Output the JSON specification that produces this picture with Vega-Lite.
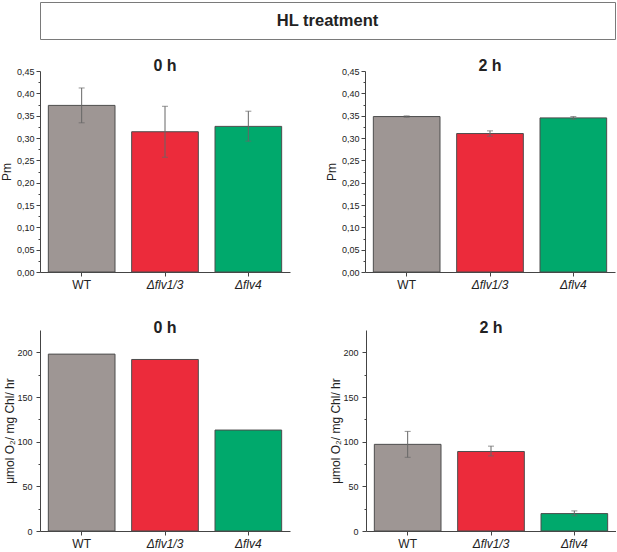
{
  "$schema": "https://vega.github.io/schema/vega-lite/v6.json",
  "autosize": {"type": "pad"},
  "padding": {"left": 0, "top": 1, "right": 0, "bottom": 0},
  "datasets": {
    "bars": [
      {"panel": "pm0", "strain": "WT", "value": 0.373, "lo": 0.334, "hi": 0.412},
      {"panel": "pm0", "strain": "Δflv1/3", "value": 0.314, "lo": 0.257, "hi": 0.371},
      {"panel": "pm0", "strain": "Δflv4", "value": 0.326, "lo": 0.293, "hi": 0.36},
      {"panel": "pm2", "strain": "WT", "value": 0.348, "lo": 0.3465, "hi": 0.3495},
      {"panel": "pm2", "strain": "Δflv1/3", "value": 0.31, "lo": 0.304, "hi": 0.316},
      {"panel": "pm2", "strain": "Δflv4", "value": 0.345, "lo": 0.342, "hi": 0.348},
      {"panel": "o0", "strain": "WT", "value": 198, "lo": null, "hi": null},
      {"panel": "o0", "strain": "Δflv1/3", "value": 192, "lo": null, "hi": null},
      {"panel": "o0", "strain": "Δflv4", "value": 113, "lo": null, "hi": null},
      {"panel": "o2", "strain": "WT", "value": 97, "lo": 82.5, "hi": 111.5},
      {"panel": "o2", "strain": "Δflv1/3", "value": 89, "lo": 84, "hi": 95},
      {"panel": "o2", "strain": "Δflv4", "value": 19.5, "lo": 17, "hi": 22.5}
    ]
  },
  "vconcat": [
    {
      "width": 575,
      "height": 37,
      "data": {"values": [{"label": "HL treatment"}]},
      "view": {"stroke": "#7a7a7a", "strokeWidth": 1},
      "mark": {"type": "text", "fontSize": 16.5, "fontWeight": "bold", "color": "#222"},
      "encoding": {"text": {"field": "label"}}
    },
    {
      "vconcat": [
        {
          "hconcat": [
            {
              "width": 250,
              "height": 201,
              "data": {"name": "bars"},
              "title": {"text": "0 h", "offset": -6.5},
              "transform": [{"filter": "datum.panel == 'pm0'"}],
              "encoding": {
                "x": {
                  "field": "strain", "type": "nominal", "sort": ["WT", "Δflv1/3", "Δflv4"],
                  "scale": {"paddingInner": 0.2, "paddingOuter": 0.1},
                  "axis": {"title": null, "labelAngle": 0, "labelFontSize": 12, "tickSize": 4, "labelPadding": 3,
                    "labelFontStyle": {"condition": {"test": "datum.value != 'WT'", "value": "italic"}, "value": "normal"}}
                }
              },
              "layer": [
                {
                  "mark": {"type": "bar", "stroke": "#4d4d4d", "strokeWidth": 1},
                  "encoding": {
                    "y": {
                      "field": "value", "type": "quantitative", "scale": {"domain": [0, 0.45], "nice": false},
                      "axis": {"title": "Pm", "titlePadding": 3, "grid": false, "labelOverlap": false, "tickCount": 100,
                        "values": [0, 0.025, 0.05, 0.075, 0.1, 0.125, 0.15, 0.175, 0.2, 0.225, 0.25, 0.275, 0.3, 0.325, 0.35, 0.375, 0.4, 0.425, 0.45],
                        "labelExpr": "round(datum.value * 1000) % 50 == 0 ? replace(format(datum.value, '.2f'), '.', ',') : ''",
                        "tickSize": {"condition": {"test": "round(datum.value * 1000) % 50 == 0", "value": 4}, "value": 2}}
                    },
                    "color": {"field": "strain", "type": "nominal", "legend": null,
                      "scale": {"domain": ["WT", "Δflv1/3", "Δflv4"], "range": ["#9e9694", "#ec2b3b", "#00a96c"]}}
                  }
                },
                {
                  "mark": {"type": "rule", "color": "#666", "strokeWidth": 1},
                  "encoding": {"y": {"field": "lo", "type": "quantitative"}, "y2": {"field": "hi"}}
                },
                {
                  "mark": {"type": "tick", "color": "#666", "size": 6, "thickness": 1},
                  "encoding": {"y": {"field": "lo", "type": "quantitative"}}
                },
                {
                  "mark": {"type": "tick", "color": "#666", "size": 6, "thickness": 1},
                  "encoding": {"y": {"field": "hi", "type": "quantitative"}}
                }
              ]
            },
            {
              "width": 250,
              "height": 201,
              "data": {"name": "bars"},
              "title": {"text": "2 h", "offset": -6.5},
              "transform": [{"filter": "datum.panel == 'pm2'"}],
              "encoding": {
                "x": {
                  "field": "strain", "type": "nominal", "sort": ["WT", "Δflv1/3", "Δflv4"],
                  "scale": {"paddingInner": 0.2, "paddingOuter": 0.1},
                  "axis": {"title": null, "labelAngle": 0, "labelFontSize": 12, "tickSize": 4, "labelPadding": 3,
                    "labelFontStyle": {"condition": {"test": "datum.value != 'WT'", "value": "italic"}, "value": "normal"}}
                }
              },
              "layer": [
                {
                  "mark": {"type": "bar", "stroke": "#4d4d4d", "strokeWidth": 1},
                  "encoding": {
                    "y": {
                      "field": "value", "type": "quantitative", "scale": {"domain": [0, 0.45], "nice": false},
                      "axis": {"title": "Pm", "titlePadding": 3, "grid": false, "labelOverlap": false, "tickCount": 100,
                        "values": [0, 0.025, 0.05, 0.075, 0.1, 0.125, 0.15, 0.175, 0.2, 0.225, 0.25, 0.275, 0.3, 0.325, 0.35, 0.375, 0.4, 0.425, 0.45],
                        "labelExpr": "round(datum.value * 1000) % 50 == 0 ? replace(format(datum.value, '.2f'), '.', ',') : ''",
                        "tickSize": {"condition": {"test": "round(datum.value * 1000) % 50 == 0", "value": 4}, "value": 2}}
                    },
                    "color": {"field": "strain", "type": "nominal", "legend": null,
                      "scale": {"domain": ["WT", "Δflv1/3", "Δflv4"], "range": ["#9e9694", "#ec2b3b", "#00a96c"]}}
                  }
                },
                {
                  "mark": {"type": "rule", "color": "#666", "strokeWidth": 1},
                  "encoding": {"y": {"field": "lo", "type": "quantitative"}, "y2": {"field": "hi"}}
                },
                {
                  "mark": {"type": "tick", "color": "#666", "size": 6, "thickness": 1},
                  "encoding": {"y": {"field": "lo", "type": "quantitative"}}
                },
                {
                  "mark": {"type": "tick", "color": "#666", "size": 6, "thickness": 1},
                  "encoding": {"y": {"field": "hi", "type": "quantitative"}}
                }
              ]
            }
          ],
          "spacing": 35
        },
        {
          "hconcat": [
            {
              "width": 250,
              "height": 201,
              "data": {"name": "bars"},
              "title": {"text": "0 h", "offset": -6},
              "transform": [{"filter": "datum.panel == 'o0'"}],
              "encoding": {
                "x": {
                  "field": "strain", "type": "nominal", "sort": ["WT", "Δflv1/3", "Δflv4"],
                  "scale": {"paddingInner": 0.2, "paddingOuter": 0.1},
                  "axis": {"title": null, "labelAngle": 0, "labelFontSize": 12, "tickSize": 4, "labelPadding": 3,
                    "labelFontStyle": {"condition": {"test": "datum.value != 'WT'", "value": "italic"}, "value": "normal"}}
                }
              },
              "layer": [
                {
                  "mark": {"type": "bar", "stroke": "#4d4d4d", "strokeWidth": 1},
                  "encoding": {
                    "y": {
                      "field": "value", "type": "quantitative", "scale": {"domain": [0, 225], "nice": false},
                      "axis": {"title": "μmol O₂/ mg  Chl/ hr", "titlePadding": 0, "labelPadding": 4, "grid": false, "labelOverlap": false, "tickCount": 100,
                        "values": [0, 25, 50, 75, 100, 125, 150, 175, 200],
                        "labelExpr": "datum.value % 50 == 0 ? format(datum.value, 'd') : ''",
                        "tickSize": {"condition": {"test": "datum.value % 50 == 0", "value": 4}, "value": 2}}
                    },
                    "color": {"field": "strain", "type": "nominal", "legend": null,
                      "scale": {"domain": ["WT", "Δflv1/3", "Δflv4"], "range": ["#9e9694", "#ec2b3b", "#00a96c"]}}
                  }
                }
              ]
            },
            {
              "width": 250,
              "height": 201,
              "data": {"name": "bars"},
              "title": {"text": "2 h", "offset": -6},
              "transform": [{"filter": "datum.panel == 'o2'"}],
              "encoding": {
                "x": {
                  "field": "strain", "type": "nominal", "sort": ["WT", "Δflv1/3", "Δflv4"],
                  "scale": {"paddingInner": 0.2, "paddingOuter": 0.1},
                  "axis": {"title": null, "labelAngle": 0, "labelFontSize": 12, "tickSize": 4, "labelPadding": 3,
                    "labelFontStyle": {"condition": {"test": "datum.value != 'WT'", "value": "italic"}, "value": "normal"}}
                }
              },
              "layer": [
                {
                  "mark": {"type": "bar", "stroke": "#4d4d4d", "strokeWidth": 1},
                  "encoding": {
                    "y": {
                      "field": "value", "type": "quantitative", "scale": {"domain": [0, 225], "nice": false},
                      "axis": {"title": "μmol O₂/ mg  Chl/ hr", "titlePadding": 0, "labelPadding": 4, "grid": false, "labelOverlap": false, "tickCount": 100,
                        "values": [0, 25, 50, 75, 100, 125, 150, 175, 200],
                        "labelExpr": "datum.value % 50 == 0 ? format(datum.value, 'd') : ''",
                        "tickSize": {"condition": {"test": "datum.value % 50 == 0", "value": 4}, "value": 2}}
                    },
                    "color": {"field": "strain", "type": "nominal", "legend": null,
                      "scale": {"domain": ["WT", "Δflv1/3", "Δflv4"], "range": ["#9e9694", "#ec2b3b", "#00a96c"]}}
                  }
                },
                {
                  "mark": {"type": "rule", "color": "#666", "strokeWidth": 1},
                  "encoding": {"y": {"field": "lo", "type": "quantitative"}, "y2": {"field": "hi"}}
                },
                {
                  "mark": {"type": "tick", "color": "#666", "size": 6, "thickness": 1},
                  "encoding": {"y": {"field": "lo", "type": "quantitative"}}
                },
                {
                  "mark": {"type": "tick", "color": "#666", "size": 6, "thickness": 1},
                  "encoding": {"y": {"field": "hi", "type": "quantitative"}}
                }
              ]
            }
          ],
          "spacing": 39
        }
      ],
      "spacing": 30
    }
  ],
  "spacing": 17,
  "config": {
    "font": "Liberation Sans",
    "view": {"stroke": null},
    "axis": {
      "labelFontSize": 9,
      "titleFontSize": 12,
      "titleFontWeight": "normal",
      "labelColor": "#222",
      "titleColor": "#222",
      "domainColor": "#444",
      "tickColor": "#444",
      "labelPadding": 2,
      "labelOverlap": false
    },
    "title": {"fontSize": 16, "fontWeight": "bold", "color": "#222"}
  }
}
